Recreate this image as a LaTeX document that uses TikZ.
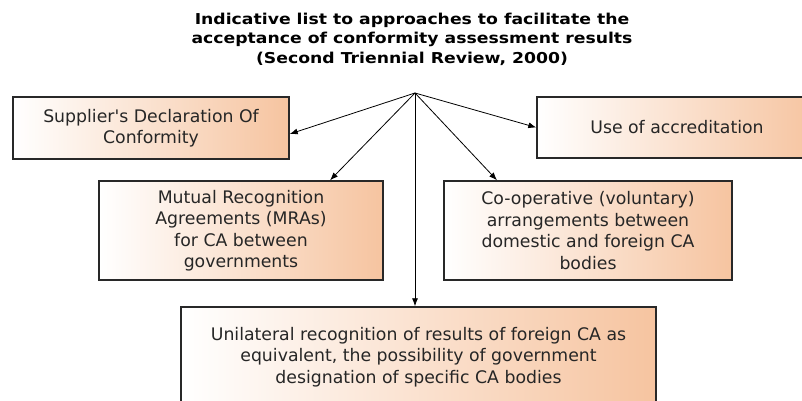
\documentclass[tikz,border=0pt]{standalone}
\usepackage{fontspec}
\setmainfont{DejaVu Sans}
\newfontfamily\titlefont[FakeStretch=1.15]{DejaVu Sans}
\usetikzlibrary{arrows.meta,calc}
\definecolor{peach}{RGB}{246,196,160}
\definecolor{edge}{RGB}{40,40,40}
\tikzset{
  box/.style={draw=edge, line width=1.4pt, left color=white, right color=peach,
    align=center, inner sep=0pt, font=\fontsize{17.3}{21.5}\selectfont, text=black!85},
  conn/.style={draw=black, line width=0.8pt, -{Latex[length=8pt,width=6pt]}},
}
\begin{document}
\begin{tikzpicture}[x=1pt,y=-1pt]
\clip (0,0) rectangle (802,401);
\fill[white] (0,0) rectangle (802,401);
\node[font=\titlefont\bfseries\fontsize{15}{19.5}\selectfont, align=center] (title) at (412,39)
  {Indicative list to approaches to facilitate the\\acceptance of conformity assessment results\\(Second Triennial Review, 2000)};
\coordinate (apex) at (415,93);
\node[box, minimum width=276pt, minimum height=62pt] (sdoc) at (151,128)
  {Supplier\textquotesingle s Declaration Of\\Conformity};
\node[box, minimum width=280pt, minimum height=61pt] (accr) at (677,127.5)
  {Use of accreditation};
\node[box, minimum width=284pt, minimum height=99pt] (mra) at (241,230.5)
  {Mutual Recognition\\Agreements (MRAs)\\for CA between\\governments};
\node[box, minimum width=288pt, minimum height=99pt] (coop) at (588,230.5)
  {Co-operative (voluntary)\\arrangements between\\domestic and foreign CA\\bodies};
\node[box, minimum width=475pt, minimum height=100pt] (uni) at (418.5,357)
  {Unilateral recognition of results of foreign CA as\\equivalent, the possibility of government\\designation of specific CA bodies};
\draw[conn] (apex) -- ([yshift=-6pt]sdoc.east);
\draw[conn] (apex) -- (accr.west);
\draw[conn] (apex) -- ([xshift=89pt]mra.north);
\draw[conn] (apex) -- ([xshift=-91pt]coop.north);
\draw[conn] (apex) -- (apex |- uni.north);
\end{tikzpicture}
\end{document}
